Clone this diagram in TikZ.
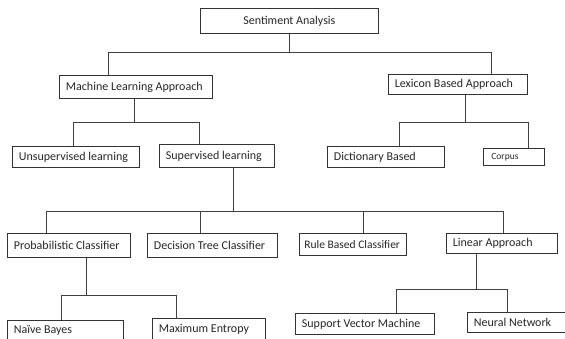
\documentclass[tikz,border=0pt]{standalone}
\usepackage{fontspec}
\setmainfont{Carlito}
\newcommand\boxtext[2]{\makebox[#1pt][l]{#2}}
\begin{document}
\begin{tikzpicture}[x=1pt,y=-1pt,
  box/.style={draw=black!80, line width=0.8pt, rectangle, inner xsep=6.5pt,
    inner ysep=0pt, anchor=north west, text=black!85, font=\fontsize{12}{14}\selectfont},
  link/.style={draw=black!75, line width=0.8pt}]
\useasboundingbox (0,0) rectangle (565,339);

% level 0
\node[box, minimum height=25pt, minimum width=178pt, inner xsep=0pt] (sa) at (200,8) {Sentiment Analysis};
% level 1
\node[box, minimum height=23pt] (ml)  at (59,75)  {\boxtext{140}{Machine Learning Approach}};
\node[box, minimum height=20pt] (lex) at (388,74) {\boxtext{126}{Lexicon Based Approach}};
% level 2
\node[box, minimum height=21pt] (unsup)  at (12,146)  {\boxtext{114}{Unsupervised learning}};
\node[box, minimum height=23pt] (sup)    at (159,144) {\boxtext{102}{Supervised learning}};
\node[box, minimum height=21pt] (dict)   at (327,146) {\boxtext{104}{Dictionary Based}};
\node[box, minimum height=17pt, inner xsep=8pt, font=\fontsize{9.5}{11}\selectfont] (corpus) at (483,148) {\boxtext{45}{Corpus}};
% level 3
\node[box, minimum height=24pt] (prob) at (7,233)   {\boxtext{110}{Probabilistic Classifier}};
\node[box, minimum height=24pt] (dt)   at (147,233) {\boxtext{117}{Decision Tree Classifier}};
\node[box, minimum height=22pt, inner xsep=5pt, font=\fontsize{11.5}{13}\selectfont] (rule) at (299,233) {\boxtext{97}{Rule Based Classifier}};
\node[box, minimum height=20pt] (lin)  at (446,233) {\boxtext{98}{Linear Approach}};
% level 4
\node[box, minimum height=20pt] (naive)  at (7,320)   {\boxtext{103}{Naïve Bayes}};
\node[box, minimum height=22pt] (maxent) at (152,318) {\boxtext{100}{Maximum Entropy}};
\node[box, minimum height=21pt] (svm)    at (295,313) {\boxtext{126}{Support Vector Machine}};
\node[box, minimum height=20pt] (nn)     at (467,312) {\boxtext{100}{Neural Network}};

% connectors
\path (sa.south) ++(0,19) coordinate (j0);
\draw[link] (sa.south) -- (j0);
\draw[link] ([xshift=49pt]ml.north west) |- (j0) -| ([xshift=103pt]lex.north west);

\path ([xshift=75pt]ml.south west) ++(0,24) coordinate (j1);
\draw[link] ([xshift=75pt]ml.south west) -- (j1);
\draw[link] ([xshift=61pt]unsup.north west) |- (j1) -| ([xshift=40pt]sup.north west);

\path ([xshift=77pt]lex.south west) ++(0,28) coordinate (j2);
\draw[link] ([xshift=77pt]lex.south west) -- (j2);
\draw[link] ([xshift=72pt]dict.north west) |- (j2) -| ([xshift=45pt]corpus.north west);

\path ([xshift=74pt]sup.south west) ++(0,44) coordinate (j3);
\draw[link] ([xshift=74pt]sup.south west) -- (j3);
\draw[link] ([xshift=39pt]prob.north west) |- (j3) -| ([xshift=57pt]lin.north west);
\draw[link] ([xshift=53pt]dt.north west) -- ([xshift=53pt]dt.north west |- j3);
\draw[link] ([xshift=64pt]rule.north west) -- ([xshift=64pt]rule.north west |- j3);

\path ([xshift=79pt]prob.south west) ++(0,38) coordinate (j4);
\draw[link] ([xshift=79pt]prob.south west) -- (j4);
\draw[link] ([xshift=54pt]naive.north west) |- (j4) -| ([xshift=24pt]maxent.north west);

\path ([xshift=30pt]lin.south west) ++(0,36) coordinate (j5);
\draw[link] ([xshift=30pt]lin.south west) -- (j5);
\draw[link] ([xshift=101pt]svm.north west) |- (j5) -| ([xshift=40pt]nn.north west);
\end{tikzpicture}
\end{document}
